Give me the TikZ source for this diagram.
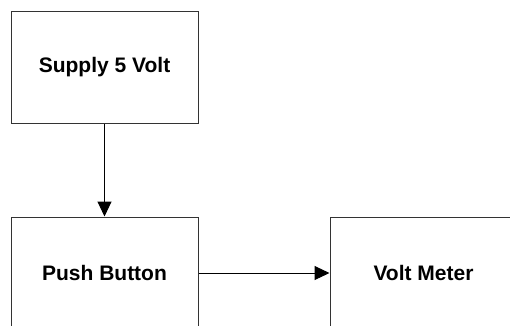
\documentclass[tikz,border=0pt]{standalone}
\usepackage{fontspec}
\setmainfont{Liberation Sans}
\usetikzlibrary{arrows.meta}
\begin{document}
\begin{tikzpicture}[x=1pt,y=-1pt,
  blockbox/.style={draw=black!80, line width=1pt, minimum width=187pt, minimum height=112pt, inner sep=0pt, font=\fontsize{21}{25}\selectfont\bfseries},
  conn/.style={line width=1pt, -{Triangle[length=15pt,width=14pt]}}]
\useasboundingbox (0,0) rectangle (510,325);
\node[blockbox] (supply) at (104.5,67) {Supply 5 Volt};
\node[blockbox] (push) at (104.5,273) {Push Button};
\node[blockbox] (meter) at (423.5,273) {Volt Meter};
\draw[conn] (supply) -- (push);
\draw[conn] (push) -- (meter);
\end{tikzpicture}
\end{document}
